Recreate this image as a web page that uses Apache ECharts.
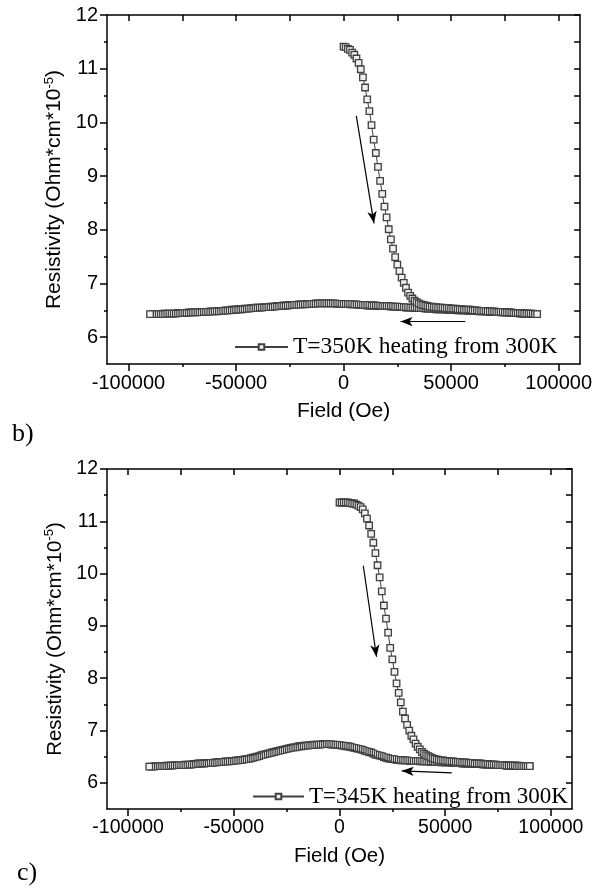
<!DOCTYPE html>
<html>
<head>
<meta charset="utf-8">
<title>Resistivity vs Field</title>
<script src="https://cdn.jsdelivr.net/npm/echarts@6.0.0/dist/echarts.min.js"></script>
<style>
  html, body { margin: 0; padding: 0; background: #fff; }
  #main { width: 595px; height: 895px; }
</style>
</head>
<body>
<div id="main"></div>
<script type="text/javascript">
// field sweep 0 -> 90000 Oe (first branch)
var fieldUp = [
  0,1000,2000,3000,4000,5000,6000,7000,8000,9000,
  10000,11000,12000,13000,14000,15000,16000,17000,18000,19000,
  20000,21000,22000,23000,24000,25000,26000,27000,28000,29000,
  30000,31000,32000,33000,34000,35000,36000,37000,38000,39000,
  40000,41000,42000,43000,44000,45000,46000,47000,48000,49000,
  50000,51000,52000,53000,54000,55000,56000,57000,58000,59000,
  60000,61000,62000,63000,64000,65000,66000,67000,68000,69000,
  70000,71000,72000,73000,74000,75000,76000,77000,78000,79000,
  80000,81000,82000,83000,84000,85000,86000,87000,88000,89000,
  90000
];
// field sweep 90000 -> -90000 Oe (return branch)
var fieldDown = [
  90000,89000,88000,87000,86000,85000,84000,83000,82000,81000,
  80000,79000,78000,77000,76000,75000,74000,73000,72000,71000,
  70000,69000,68000,67000,66000,65000,64000,63000,62000,61000,
  60000,59000,58000,57000,56000,55000,54000,53000,52000,51000,
  50000,49000,48000,47000,46000,45000,44000,43000,42000,41000,
  40000,39000,38000,37000,36000,35000,34000,33000,32000,31000,
  30000,29000,28000,27000,26000,25000,24000,23000,22000,21000,
  20000,19000,18000,17000,16000,15000,14000,13000,12000,11000,
  10000,9000,8000,7000,6000,5000,4000,3000,2000,1000,
  0,-1000,-2000,-3000,-4000,-5000,-6000,-7000,-8000,-9000,
  -10000,-11000,-12000,-13000,-14000,-15000,-16000,-17000,-18000,-19000,
  -20000,-21000,-22000,-23000,-24000,-25000,-26000,-27000,-28000,-29000,
  -30000,-31000,-32000,-33000,-34000,-35000,-36000,-37000,-38000,-39000,
  -40000,-41000,-42000,-43000,-44000,-45000,-46000,-47000,-48000,-49000,
  -50000,-51000,-52000,-53000,-54000,-55000,-56000,-57000,-58000,-59000,
  -60000,-61000,-62000,-63000,-64000,-65000,-66000,-67000,-68000,-69000,
  -70000,-71000,-72000,-73000,-74000,-75000,-76000,-77000,-78000,-79000,
  -80000,-81000,-82000,-83000,-84000,-85000,-86000,-87000,-88000,-89000,
  -90000
];

// T=350K
var rhoUp350 = [
  11.41,11.40,11.37,11.35,11.30,11.26,11.19,11.11,10.99,10.84,
  10.65,10.43,10.21,9.95,9.68,9.43,9.17,8.91,8.67,8.43,
  8.23,8.01,7.82,7.65,7.49,7.35,7.23,7.11,7.01,6.92,
  6.83,6.77,6.72,6.68,6.65,6.63,6.61,6.60,6.59,6.58,
  6.57,6.57,6.56,6.56,6.55,6.55,6.55,6.54,6.54,6.54,
  6.53,6.53,6.53,6.52,6.52,6.52,6.51,6.51,6.51,6.51,
  6.50,6.50,6.50,6.49,6.49,6.49,6.49,6.48,6.48,6.48,
  6.48,6.47,6.47,6.47,6.47,6.46,6.46,6.46,6.46,6.45,
  6.45,6.45,6.45,6.45,6.44,6.44,6.44,6.44,6.44,6.43,
  6.43
];
var rhoDown350 = [
  6.43,6.43,6.43,6.43,6.44,6.44,6.44,6.44,6.44,6.45,
  6.45,6.45,6.45,6.46,6.46,6.46,6.46,6.46,6.47,6.47,
  6.47,6.47,6.47,6.48,6.48,6.48,6.48,6.48,6.49,6.49,
  6.49,6.49,6.49,6.50,6.50,6.50,6.50,6.50,6.51,6.51,
  6.51,6.51,6.51,6.52,6.52,6.52,6.52,6.52,6.53,6.53,
  6.53,6.53,6.53,6.54,6.54,6.54,6.54,6.54,6.55,6.55,
  6.55,6.55,6.56,6.56,6.56,6.57,6.57,6.57,6.57,6.58,
  6.58,6.58,6.58,6.58,6.58,6.59,6.59,6.59,6.59,6.59,
  6.60,6.60,6.60,6.60,6.61,6.61,6.61,6.61,6.62,6.62,
  6.62,6.62,6.62,6.62,6.63,6.63,6.63,6.63,6.63,6.63,
  6.63,6.63,6.63,6.63,6.62,6.62,6.62,6.62,6.61,6.61,
  6.61,6.61,6.60,6.60,6.60,6.60,6.59,6.59,6.59,6.58,
  6.58,6.58,6.57,6.57,6.57,6.56,6.56,6.56,6.55,6.55,
  6.55,6.55,6.54,6.54,6.53,6.53,6.53,6.52,6.52,6.52,
  6.51,6.51,6.51,6.50,6.50,6.50,6.49,6.49,6.49,6.48,
  6.48,6.48,6.48,6.47,6.47,6.47,6.47,6.47,6.46,6.46,
  6.46,6.46,6.46,6.45,6.45,6.45,6.45,6.45,6.44,6.44,
  6.44,6.44,6.44,6.44,6.44,6.43,6.43,6.43,6.43,6.43,
  6.43
];

// T=345K
var rhoUp345 = [
  11.36,11.36,11.36,11.36,11.36,11.35,11.34,11.34,11.32,11.30,
  11.27,11.23,11.15,11.05,10.92,10.76,10.59,10.39,10.16,9.93,
  9.66,9.39,9.14,8.87,8.58,8.36,8.12,7.90,7.72,7.54,
  7.36,7.23,7.11,7.00,6.90,6.83,6.75,6.69,6.64,6.59,
  6.56,6.53,6.51,6.49,6.47,6.46,6.45,6.44,6.43,6.43,
  6.42,6.42,6.41,6.41,6.41,6.40,6.40,6.40,6.39,6.39,
  6.39,6.38,6.38,6.38,6.37,6.37,6.37,6.37,6.36,6.36,
  6.36,6.35,6.35,6.35,6.35,6.34,6.34,6.34,6.34,6.33,
  6.33,6.33,6.33,6.33,6.32,6.32,6.32,6.32,6.32,6.32,
  6.32
];
var rhoDown345 = [
  6.32,6.32,6.32,6.32,6.32,6.33,6.33,6.33,6.33,6.33,
  6.33,6.33,6.34,6.34,6.34,6.34,6.34,6.35,6.35,6.35,
  6.35,6.35,6.35,6.36,6.36,6.36,6.36,6.36,6.37,6.37,
  6.37,6.37,6.37,6.38,6.38,6.38,6.38,6.38,6.39,6.39,
  6.39,6.39,6.39,6.40,6.40,6.40,6.40,6.40,6.41,6.41,
  6.41,6.41,6.41,6.42,6.42,6.42,6.42,6.42,6.43,6.43,
  6.43,6.43,6.44,6.44,6.45,6.46,6.46,6.47,6.48,6.49,
  6.51,6.52,6.53,6.54,6.56,6.58,6.59,6.60,6.61,6.63,
  6.64,6.65,6.66,6.67,6.68,6.69,6.70,6.70,6.71,6.71,
  6.72,6.72,6.73,6.73,6.73,6.74,6.74,6.74,6.74,6.73,
  6.73,6.73,6.73,6.72,6.72,6.71,6.71,6.71,6.70,6.70,
  6.69,6.68,6.68,6.67,6.66,6.65,6.64,6.63,6.62,6.61,
  6.60,6.59,6.58,6.57,6.56,6.55,6.54,6.53,6.51,6.50,
  6.49,6.48,6.47,6.46,6.46,6.45,6.44,6.44,6.43,6.43,
  6.42,6.42,6.41,6.41,6.41,6.40,6.40,6.40,6.39,6.39,
  6.38,6.38,6.38,6.38,6.37,6.37,6.37,6.37,6.36,6.36,
  6.35,6.35,6.35,6.35,6.34,6.34,6.34,6.34,6.34,6.33,
  6.33,6.33,6.33,6.32,6.32,6.32,6.32,6.32,6.31,6.31,
  6.31
];

// ticks
var xMajor = [-100000, -50000, 0, 50000, 100000];
var xMinor = [-75000, -25000, 25000, 75000];
var xAll = [-100000, -75000, -50000, -25000, 0, 25000, 50000, 75000, 100000];
var yMajor = [6, 7, 8, 9, 10, 11, 12];
var yMinor = [6.5, 7.5, 8.5, 9.5, 10.5, 11.5];
var yAll = [6, 6.5, 7, 7.5, 8, 8.5, 9, 9.5, 10, 10.5, 11, 11.5, 12];

// arrows drawn in the plots (data coords: start, end)
var arrows350 = [[[5930, 10.12], [14130, 8.12]], [[56600, 6.29], [26500, 6.29]]];
var arrows345 = [[[11260, 10.15], [17510, 8.41]], [[53100, 6.19], [29430, 6.23]]];

var names = ['T=350K heating from 300K', 'T=345K heating from 300K'];

var sans = 'Liberation Sans';
var serif = 'Liberation Serif';

function pairs(xs, ys) {
  var out = [];
  for (var i = 0; i < xs.length; i++) out.push([xs[i], ys[i]]);
  return out;
}

function arrowLines(list) {
  var out = [];
  for (var i = 0; i < list.length; i++) {
    out.push([{ coord: list[i][0] }, { coord: list[i][1] }]);
  }
  return out;
}

function plain(v) { return String(v); }

var myChart = echarts.init(document.getElementById('main'), null, { renderer: 'canvas' });

var grids = [
  { left: 107, top: 15, width: 475, height: 349 },
  { left: 107, top: 469, width: 465, height: 340 }
];

var labelSize = [20, 19.5];
var nameSize = [21, 20.5];

var xAxes = [], yAxes = [];
for (var g = 0; g < 2; g++) {
  var line = { show: true, onZero: false, lineStyle: { color: '#000', width: 1.5 } };
  var noLine = { show: false, onZero: false };
  // bottom, major
  xAxes.push({
    gridIndex: g, type: 'value', position: 'bottom', min: -110000, max: 110000,
    axisLine: line,
    axisTick: { show: true, inside: false, length: 7, customValues: xMajor, lineStyle: { color: '#000', width: 1.5 } },
    axisLabel: { show: true, customValues: xMajor, formatter: plain, margin: 9, color: '#000', fontSize: labelSize[g], fontFamily: sans },
    splitLine: { show: false },
    name: 'Field (Oe)', nameLocation: 'middle', nameGap: 37,
    nameTextStyle: { color: '#000', fontSize: nameSize[g], fontFamily: sans }
  });
  // bottom, minor
  xAxes.push({
    gridIndex: g, type: 'value', position: 'bottom', min: -110000, max: 110000,
    axisLine: noLine,
    axisTick: { show: true, inside: false, length: 3, customValues: xMinor, lineStyle: { color: '#000', width: 1.5 } },
    axisLabel: { show: false },
    splitLine: { show: false }
  });
  // top mirror
  xAxes.push({
    gridIndex: g, type: 'value', position: 'top', min: -110000, max: 110000,
    axisLine: line,
    axisTick: { show: true, inside: true, length: 6, customValues: xAll, lineStyle: { color: '#000', width: 1.5 } },
    axisLabel: { show: false },
    splitLine: { show: false }
  });

  yAxes.push({
    gridIndex: g, type: 'value', position: 'left', min: 5.5, max: 12,
    axisLine: line,
    axisTick: { show: true, inside: false, length: 7, customValues: yMajor, lineStyle: { color: '#000', width: 1.5 } },
    axisLabel: { show: true, customValues: yMajor, formatter: plain, margin: 9, color: '#000', fontSize: labelSize[g], fontFamily: sans },
    splitLine: { show: false },
    name: 'Resistivity (Ohm*cm*10{sup|-5})', nameLocation: 'middle', nameGap: 29,
    nameTextStyle: {
      color: '#000', fontSize: nameSize[g], fontFamily: sans,
      rich: { sup: { fontSize: 13, fontFamily: sans, color: '#000', verticalAlign: 'top', padding: [0, 0, 10, 0] } }
    }
  });
  yAxes.push({
    gridIndex: g, type: 'value', position: 'left', min: 5.5, max: 12,
    axisLine: noLine,
    axisTick: { show: true, inside: false, length: 3, customValues: yMinor, lineStyle: { color: '#000', width: 1.5 } },
    axisLabel: { show: false },
    splitLine: { show: false }
  });
  yAxes.push({
    gridIndex: g, type: 'value', position: 'right', min: 5.5, max: 12,
    axisLine: line,
    axisTick: { show: true, inside: true, length: 6, customValues: yAll, lineStyle: { color: '#000', width: 1.5 } },
    axisLabel: { show: false },
    splitLine: { show: false }
  });
}

function branch(name, g, data, arrows) {
  var s = {
    name: name, type: 'line', xAxisIndex: g * 3, yAxisIndex: g * 3, data: data,
    symbol: 'rect', symbolSize: 6.5, showSymbol: true, showAllSymbol: true,
    itemStyle: { color: '#f0f0f0', borderColor: '#404040', borderWidth: 1.3 },
    lineStyle: { color: '#404040', width: 1 },
    emphasis: { disabled: true }, silent: true
  };
  if (arrows) {
    s.markLine = {
      silent: true, symbol: ['none', 'arrow'], symbolSize: [7, 12],
      label: { show: false },
      lineStyle: { color: '#000', width: 1.2, type: 'solid' },
      emphasis: { disabled: true },
      data: arrowLines(arrows)
    };
  }
  return s;
}

var option = {
  animation: false,
  backgroundColor: '#fff',
  grid: grids,
  xAxis: xAxes,
  yAxis: yAxes,
  legend: [
    {
      data: [names[0]], left: 229, top: 330, itemWidth: 53, itemHeight: 7, itemGap: 0,
      selectedMode: false,
      textStyle: { color: '#000', fontSize: 23.5, fontFamily: serif }
    },
    {
      data: [names[1]], left: 247, top: 780, itemWidth: 51, itemHeight: 7, itemGap: 0,
      selectedMode: false,
      textStyle: { color: '#000', fontSize: 23, fontFamily: serif }
    }
  ],
  graphic: [
    { type: 'text', left: 12, top: 421, style: { text: 'b)', fill: '#000', font: '26px "Liberation Serif"' } },
    { type: 'text', left: 17, top: 860, style: { text: 'c)', fill: '#000', font: '26px "Liberation Serif"' } }
  ],
  series: [
    branch(names[0], 0, pairs(fieldDown, rhoDown350), null),
    branch(names[0], 0, pairs(fieldUp, rhoUp350), arrows350),
    branch(names[1], 1, pairs(fieldDown, rhoDown345), null),
    branch(names[1], 1, pairs(fieldUp, rhoUp345), arrows345)
  ]
};

myChart.setOption(option);
</script>
</body>
</html>
